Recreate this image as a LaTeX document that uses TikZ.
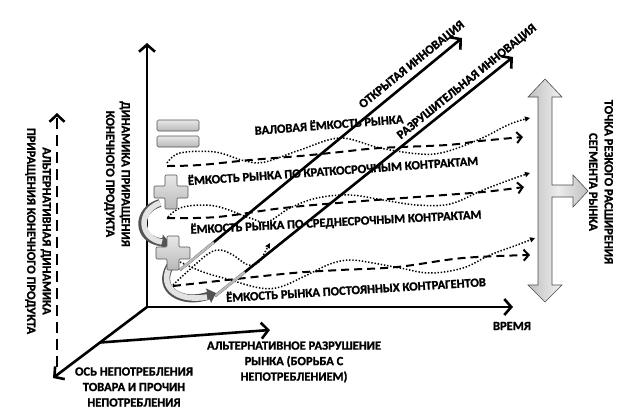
\documentclass[tikz,border=0pt]{standalone}
\usepackage{fontspec}
\setmainfont{Carlito}
\newfontfamily\lblfont{Carlito Bold}[FakeBold=1.3]
\usetikzlibrary{arrows.meta,calc}
\begin{document}
\begin{tikzpicture}[x=1pt,y=-1pt,
  lbl/.style={font=\lblfont\fontsize{12.5}{15.5}\selectfont, inner sep=0pt, align=center},
  axisline/.style={line width=2.6pt, -{Straight Barb[length=7pt,width=16pt,line width=2.6pt]}},
  dashaxis/.style={line width=2.8pt, dash pattern=on 11pt off 6pt, -{Straight Barb[length=7pt,width=15pt,line width=2.6pt]}},
  dotcurve/.style={line width=1.5pt, dash pattern=on 1.4pt off 1.8pt, -{Triangle[length=5pt,width=5pt]}},
  dashcurve/.style={line width=2pt, dash pattern=on 8pt off 5pt, -{Straight Barb[length=5pt,width=11pt,line width=2pt]}},
  ribbon/.style={line width=8pt, draw=gray!65!black, -{Triangle[length=8pt,width=15pt]}},
  ribboninner/.style={line width=5.6pt, draw=gray!22},
  graybox/.style={draw=gray!65!black, line width=0.6pt, top color=gray!18, bottom color=gray!55},
  plussign/.pic={\path[graybox, rounded corners=1pt]
     (-17,-6) -- (-6,-6) -- (-6,-17) -- (6,-17) -- (6,-6) -- (17,-6) -- (17,6) -- (6,6) -- (6,17) -- (-6,17) -- (-6,6) -- (-17,6) -- cycle;}
]
\useasboundingbox (0,0) rectangle (623,413);

% coordinates
\coordinate (O) at (147,307);
\coordinate (Ytop) at (147,43);
\coordinate (Xend) at (513,307);
\coordinate (Ztip) at (53,378);
\coordinate (Astart) at ($(O)!0.5!(Ztip)$);
\coordinate (Aend) at (270,330);
\coordinate (ADbot) at (57,367);
\coordinate (ADtop) at (57,113);
\coordinate (o1) at (180,270);
\coordinate (o2) at (462,38);
\coordinate (r1) at (215,296);
\coordinate (r2) at (513,57);

% big grey arrow
\path[draw=gray!60!black, line width=0.6pt, left color=gray!50, right color=gray!50, middle color=gray!15]
  (545,79) -- (562,97) -- (552,97) -- (552,185) -- (573,185) -- (573,175) -- (588,191)
  -- (573,207) -- (573,197) -- (552,197) -- (552,285) -- (562,285) -- (545,302)
  -- (528,285) -- (538,285) -- (538,97) -- (528,97) -- cycle;

% axes
\draw[axisline] (O) -- (Ytop);
\draw[axisline] (O) -- (Xend);
\draw[axisline] (O) -- (Ztip);
\draw[axisline] (Astart) -- (Aend);
\draw[dashaxis] (ADbot) -- (ADtop);

% top group
\draw[dotcurve] plot[smooth, tension=0.6] coordinates {(167,163) (180,153) (215,152) (245,161) (265,162) (300,150) (340,138) (380,148) (420,154) (445,152) (480,139) (510,124) (530,118)};
\draw[dashcurve] plot[smooth, tension=0.6] coordinates {(167,166) (200,165) (250,160) (300,156) (340,152) (380,148) (447,145) (480,141) (523,137)};
% middle group
\draw[dotcurve] plot[smooth, tension=0.6] coordinates {(168,217) (183,207) (215,206) (250,218) (267,222) (290,208) (317,198) (350,195) (383,200) (417,205) (450,204) (483,190) (515,178) (530,173)};
\draw[dashcurve] plot[smooth, tension=0.6] coordinates {(167,218) (217,217) (283,208) (350,202) (417,197) (483,192) (524,187)};
% bottom group
\draw[dotcurve] plot[smooth, tension=0.6] coordinates {(173,285) (187,272) (208,254) (220,250) (233,255) (248,265) (259,262) (265,252) (270,243)};
\draw[dotcurve] plot[smooth, tension=0.6] coordinates {(180,262) (203,272) (227,279) (260,288) (280,287) (305,276) (330,264) (350,260) (373,263) (400,268) (430,273) (463,268) (490,255) (517,245) (535,238)};
\draw[dashcurve] plot[smooth, tension=0.6] coordinates {(173,286) (227,280) (293,273) (340,270) (397,267) (463,258) (530,255)};

% diagonal innovation arrows
\draw[axisline] (o1) -- (o2);
\draw[axisline] (r1) -- (r2);
\draw[line width=2.6pt, gray!55] (o1) -- ($(o1)!0.12!(o2)$);
\draw[line width=2.6pt, gray!55] (r1) -- ($(r1)!0.10!(r2)$);

% curved ribbon arrows
\coordinate (rb1s) at (160,203);
\coordinate (rb1e) at (170,243);
\coordinate (rb2s) at (170,266);
\coordinate (rb2e) at (216,293);
\draw[ribbon] (rb1s) .. controls (136,210) and (136,240) .. (rb1e);
\draw[ribboninner] (rb1s) .. controls (138,211) and (139,238) .. (162,242);
\draw[ribbon] (rb2s) .. controls (156,290) and (182,305) .. (rb2e);
\draw[ribboninner] (rb2s) .. controls (158,289) and (180,302) .. (207,297);

% plus and equals signs
\pic (plusA) at (171,192) {plussign};
\pic (plusB) at (173,253) {plussign};
\node[graybox, rounded corners=1.5pt, minimum width=42pt, minimum height=11pt, inner sep=0pt] (eqA) at (178,125.5) {};
\node[graybox, rounded corners=1.5pt, minimum width=42pt, minimum height=11pt, inner sep=0pt] (eqB) at (178,141.5) {};

% labels
\node[lbl, rotate=4.5] (val) at (329,124) {ВАЛОВАЯ ЁМКОСТЬ РЫНКА};
\node[lbl, rotate=4] (kr) at (333,170) {ЁМКОСТЬ РЫНКА ПО КРАТКОСРОЧНЫМ КОНТРАКТАМ};
\node[lbl, rotate=3] (sr) at (336,222) {ЁМКОСТЬ РЫНКА ПО СРЕДНЕСРОЧНЫМ КОНТРАКТАМ};
\node[lbl, rotate=3.5] (pk) at (356,289) {ЁМКОСТЬ РЫНКА ПОСТОЯННЫХ КОНТРАГЕНТОВ};
\node[lbl, rotate=39] (otkr) at (412,65) {ОТКРЫТАЯ ИННОВАЦИЯ};
\node[lbl, rotate=39] (razr) at (467,82) {РАЗРУШИТЕЛЬНАЯ ИННОВАЦИЯ};
\node[lbl] (vrem) at (512,326) {ВРЕМЯ};
\node[lbl] (alt) at (294,362) {АЛЬТЕРНАТИВНОЕ РАЗРУШЕНИЕ\\РЫНКА (БОРЬБА С\\НЕПОТРЕБЛЕНИЕМ)};
\node[lbl] (osn) at (134,387) {ОСЬ НЕПОТРЕБЛЕНИЯ\\ТОВАРА И ПРОЧИН\\НЕПОТРЕБЛЕНИЯ};
\node[lbl, rotate=-90] (dyn) at (117,174) {ДИНАМИКА ПРИРАЩЕНИЯ\\КОНЕЧНОГО ПРОДУКТА};
\node[lbl, rotate=-90] (adyn) at (38,231) {АЛЬТЕРНАТИВНАЯ ДИНАМИКА\\ПРИРАЩЕНИЯ КОНЕЧНОГО ПРОДУКТА};
\node[lbl, rotate=-90] (toch) at (601,182) {ТОЧКА РЕЗКОГО РАСШИРЕНИЯ\\СЕГМЕНТА РЫНКА};
\end{tikzpicture}
\end{document}
